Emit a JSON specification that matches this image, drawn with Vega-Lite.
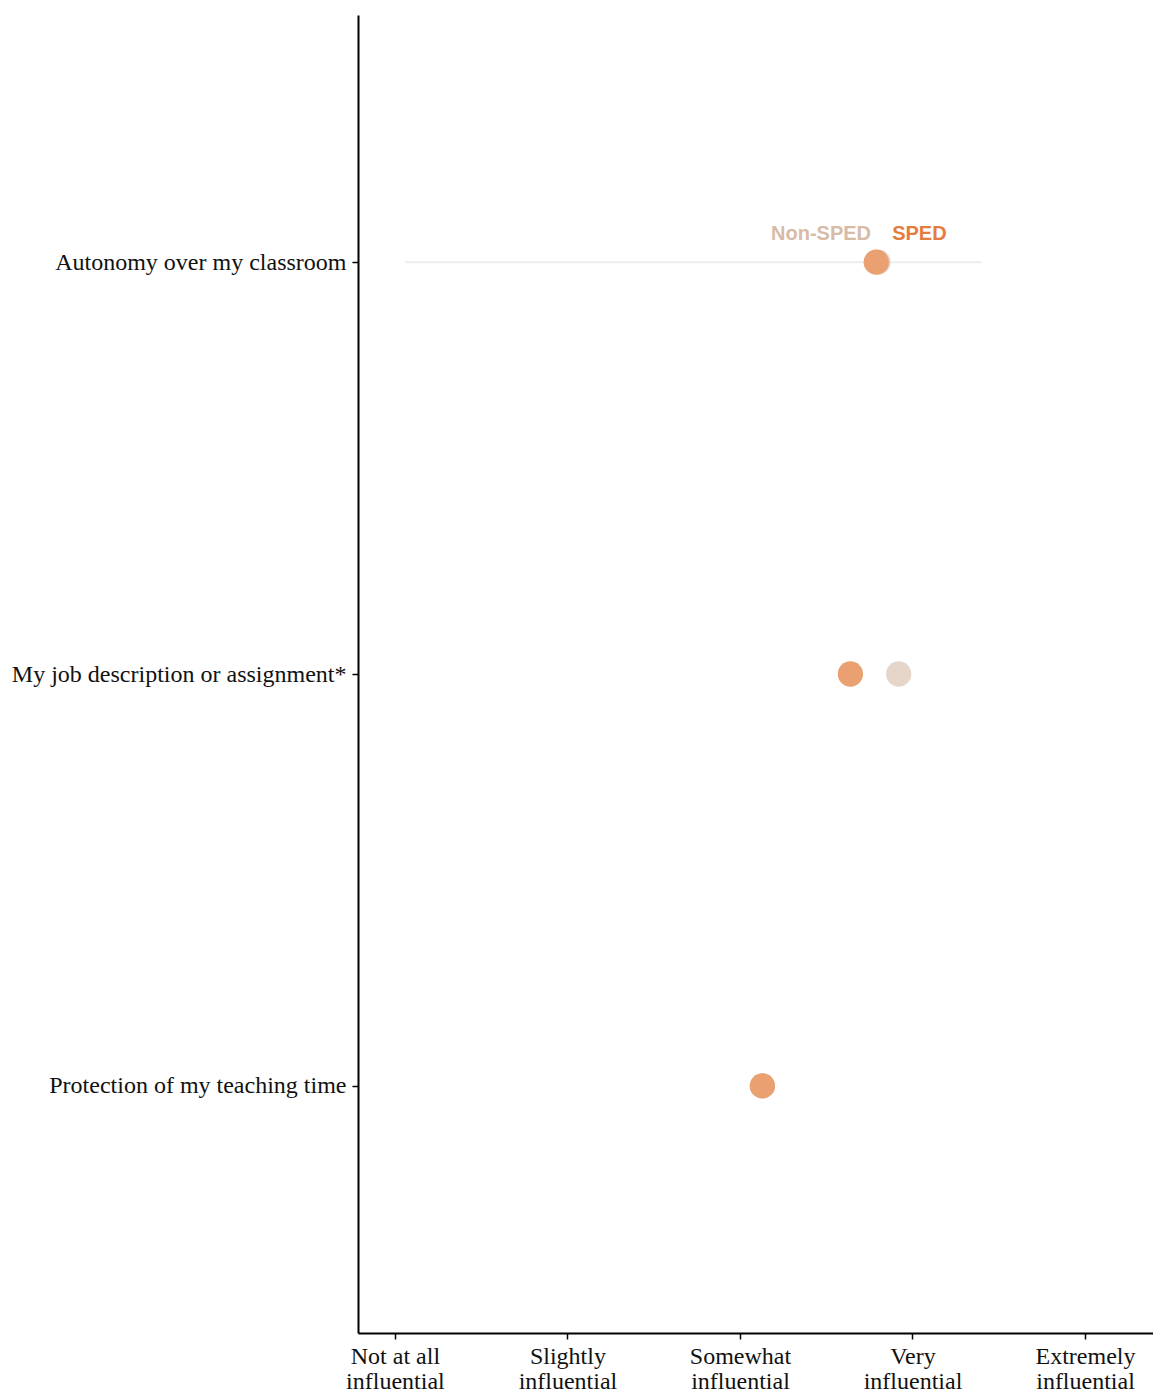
{
  "$schema": "https://vega.github.io/schema/vega-lite/v6.json",
  "autosize": "none",
  "width": 795,
  "height": 1318,
  "padding": {"left": 358, "top": 15, "right": 0, "bottom": 62},
  "background": "white",
  "config": {
    "view": {"stroke": null},
    "axis": {"grid": false, "domainColor": "black", "domainWidth": 2, "tickColor": "black", "tickWidth": 1.5, "tickSize": 6, "labelColor": "#111111", "labelFont": "Liberation Serif", "labelFontSize": 24, "labelLimit": 500, "title": null}
  },
  "datasets": {
    "points": [
      {"item": "Autonomy over my classroom", "group": "Non-SPED", "score": 3.80},
      {"item": "Autonomy over my classroom", "group": "SPED", "score": 3.79},
      {"item": "My job description or assignment*", "group": "Non-SPED", "score": 3.92},
      {"item": "My job description or assignment*", "group": "SPED", "score": 3.64},
      {"item": "Protection of my teaching time", "group": "Non-SPED", "score": 3.13},
      {"item": "Protection of my teaching time", "group": "SPED", "score": 3.13}
    ],
    "labels": [
      {"item": "Autonomy over my classroom", "group": "Non-SPED", "score": 3.47},
      {"item": "Autonomy over my classroom", "group": "SPED", "score": 4.04}
    ],
    "range": [
      {"item": "Autonomy over my classroom", "lo": 1.06, "hi": 4.40}
    ]
  },
  "encoding": {
    "y": {
      "field": "item", "type": "nominal",
      "sort": ["Autonomy over my classroom", "My job description or assignment*", "Protection of my teaching time"],
      "scale": {"type": "point", "padding": 0.6, "domain": ["Autonomy over my classroom", "My job description or assignment*", "Protection of my teaching time"]},
      "axis": {"labelPadding": 6}
    }
  },
  "layer": [
    {
      "data": {"name": "range"},
      "mark": {"type": "rule", "color": "#EDEDED", "strokeWidth": 2},
      "encoding": {
        "x": {"field": "lo", "type": "quantitative", "scale": {"domain": [0.786, 5.394], "nice": false, "zero": false},
          "axis": {"values": [1, 2, 3, 4, 5], "labelPadding": 5, "labelLineHeight": 25, "labelBaseline": "top",
            "labelExpr": "datum.value == 1 ? ['Not at all', 'influential'] : datum.value == 2 ? ['Slightly', 'influential'] : datum.value == 3 ? ['Somewhat', 'influential'] : datum.value == 4 ? ['Very', 'influential'] : ['Extremely', 'influential']"}},
        "x2": {"field": "hi"}
      }
    },
    {
      "data": {"name": "points"},
      "mark": {"type": "circle", "size": 640, "opacity": 1},
      "encoding": {
        "x": {"field": "score", "type": "quantitative"},
        "color": {"field": "group", "type": "nominal", "scale": {"domain": ["Non-SPED", "SPED"], "range": ["#E6D6CA", "#EAA070"]}, "legend": null},
        "order": {"field": "group", "sort": "ascending"}
      }
    },
    {
      "data": {"name": "labels"},
      "mark": {"type": "text", "font": "Liberation Sans", "fontSize": 20, "fontWeight": "bold", "dy": -28, "align": "center", "baseline": "middle"},
      "encoding": {
        "x": {"field": "score", "type": "quantitative"},
        "text": {"field": "group"},
        "color": {"field": "group", "type": "nominal", "scale": {"domain": ["Non-SPED", "SPED"], "range": ["#D8BBA6", "#E57C3F"]}, "legend": null}
      }
    }
  ],
  "resolve": {"scale": {"color": "independent"}}
}
